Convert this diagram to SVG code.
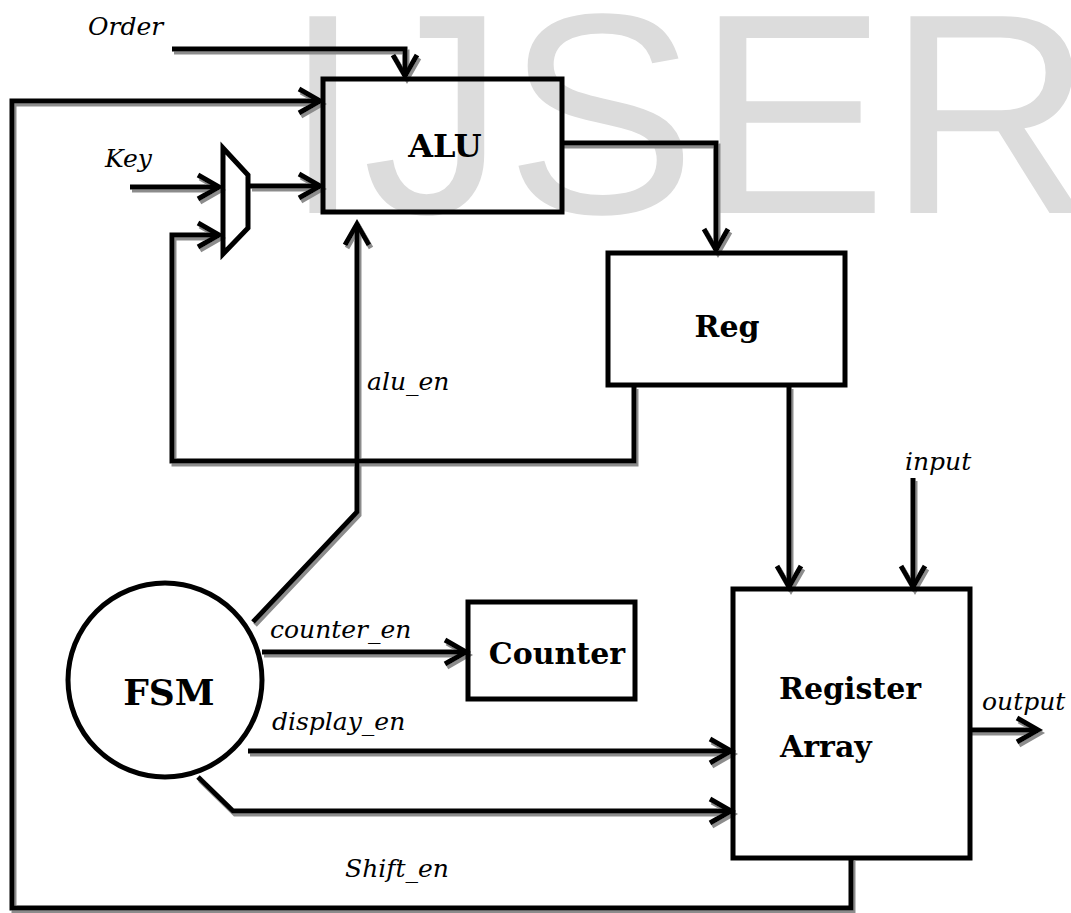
<svg xmlns="http://www.w3.org/2000/svg" width="1071" height="913" viewBox="0 0 1071 913">
  <style>
    .wm { font-family: "Liberation Sans", Arial, sans-serif; font-size: 286px; fill: #dcdcdc; }
    .box { fill: none; stroke: #000; stroke-width: 5; }
    .wire { fill: none; stroke: #000; stroke-width: 5; stroke-linejoin: miter; }
    .lbl { font-family: "DejaVu Serif", serif; font-style: italic; font-size: 25px; fill: #000; }
    .name { font-family: "DejaVu Serif", serif; font-weight: bold; font-size: 30px; fill: #000; }
  </style>
  <defs>
    <marker id="arr" markerUnits="userSpaceOnUse" markerWidth="40" markerHeight="40" viewBox="-30 -20 40 40" refX="0" refY="0" orient="auto">
      <path d="M-21,-12 L0,0 L-21,12" fill="none" stroke="#000" stroke-width="5" stroke-linejoin="miter"/>
    </marker>
    <filter id="sh" x="-5%" y="-5%" width="110%" height="110%">
      <feOffset in="SourceAlpha" dx="2" dy="3" result="o"/>
      <feFlood flood-color="#8c8c8c"/>
      <feComposite in2="o" operator="in" result="s"/>
      <feMerge><feMergeNode in="s"/><feMergeNode in="SourceGraphic"/></feMerge>
    </filter>
  </defs>
  <rect width="1071" height="913" fill="#fff"/>
  <text class="wm" x="283" y="213">IJSER</text>

  <g id="connectors" filter="url(#sh)">
    <path class="wire" d="M172,49 H405 V76" marker-end="url(#arr)"/>
    <path class="wire" d="M851,858 V908 H12 V101 H320" marker-end="url(#arr)"/>
    <path class="wire" d="M130,187 H219" marker-end="url(#arr)"/>
    <path class="wire" d="M250,186 H320" marker-end="url(#arr)"/>
    <path class="wire" d="M634,386 V461 H172 V235 H219" marker-end="url(#arr)"/>
    <path class="wire" d="M562,143 H716 V250" marker-end="url(#arr)"/>
    <path class="wire" d="M253,622 L357,512 V224" marker-end="url(#arr)"/>
    <path class="wire" d="M262,652 H466" marker-end="url(#arr)"/>
    <path class="wire" d="M248,751 H731" marker-end="url(#arr)"/>
    <path class="wire" d="M198,777 L233,811 H731" marker-end="url(#arr)"/>
    <path class="wire" d="M789,386 V587" marker-end="url(#arr)"/>
    <path class="wire" d="M913,478 V587" marker-end="url(#arr)"/>
    <path class="wire" d="M970,730 H1038" marker-end="url(#arr)"/>
  </g>

  <g id="labels">
    <text class="lbl" x="88" y="35">Order</text>
    <text class="lbl" x="105" y="167">Key</text>
    <text class="lbl" x="367" y="390">alu_en</text>
    <text class="lbl" x="905" y="470">input</text>
    <text class="lbl" x="270" y="638">counter_en</text>
    <text class="lbl" x="272" y="730">display_en</text>
    <text class="lbl" x="345" y="877">Shift_en</text>
    <text class="lbl" x="982" y="710">output</text>
  </g>

  <g id="alu">
    <rect class="box" x="323" y="79" width="239" height="133" fill="#fff"/>
    <text class="name" x="445" y="157" text-anchor="middle" style="font-size:32px">ALU</text>
  </g>
  <g id="mux">
    <polygon class="box" points="223,148 248,175 248,228 223,254"/>
  </g>
  <g id="reg">
    <rect class="box" x="608" y="253" width="237" height="132"/>
    <text class="name" x="727" y="337" text-anchor="middle">Reg</text>
  </g>
  <g id="fsm">
    <circle class="box" cx="165" cy="680" r="97"/>
    <text class="name" x="169" y="705" text-anchor="middle" style="font-size:36px">FSM</text>
  </g>
  <g id="counter">
    <rect class="box" x="468" y="602" width="167" height="97"/>
    <text class="name" x="557" y="664" text-anchor="middle">Counter</text>
  </g>
  <g id="register-array">
    <rect class="box" x="733" y="589" width="237" height="269"/>
    <text class="name" x="779" y="699">Register</text>
    <text class="name" x="780" y="757">Array</text>
  </g>
</svg>
